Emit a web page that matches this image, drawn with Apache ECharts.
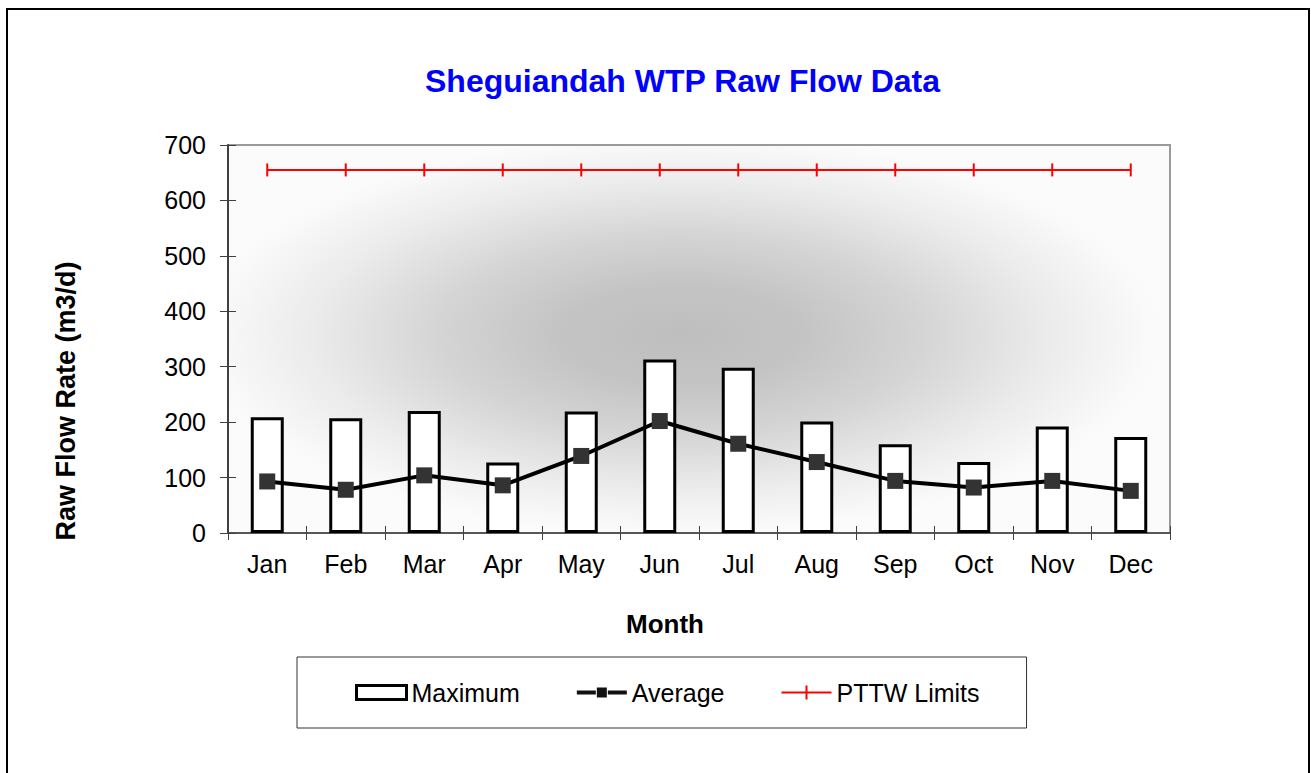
<!DOCTYPE html>
<html>
<head>
<meta charset="utf-8">
<script src="https://cdn.jsdelivr.net/npm/echarts@6/dist/echarts.min.js"></script>
<style>
html,body{margin:0;padding:0;background:#fff;}
#chart{width:1311px;height:773px;}
</style>
</head>
<body>
<div id="chart"></div>
<script>
const months = ['Jan','Feb','Mar','Apr','May','Jun','Jul','Aug','Sep','Oct','Nov','Dec'];
const maximum = [209, 207, 220, 127, 219, 313, 298, 201, 160, 128, 192, 173];
const average = [93, 78, 104, 86, 139, 202, 161, 128, 94, 82, 94, 76];
const pttwLimits = [655, 655, 655, 655, 655, 655, 655, 655, 655, 655, 655, 655];
const yTicks = [0, 100, 200, 300, 400, 500, 600, 700];

const FONT = "'Liberation Sans', Arial, sans-serif";
const chart = echarts.init(document.getElementById('chart'), null, {renderer: 'svg'});

const G = {left: 228, top: 145, width: 942, height: 388};

chart.setOption({
  backgroundColor: '#ffffff',
  animation: false,
  title: {
    text: 'Sheguiandah WTP Raw Flow Data',
    left: 420,
    top: 60,
    textStyle: {color: '#0000ff', fontFamily: FONT, fontWeight: 'bold', fontSize: 32}
  },
  graphic: [
    {
      type: 'rect', z: -10, silent: true,
      x: G.left + G.width * 0.5, y: G.top + G.height * 0.5,
      scaleY: G.height / G.width,
      shape: {x: -G.width / 2, y: -G.width / 2, width: G.width, height: G.width},
      style: {
        fill: {
          type: 'radial', x: 0.48, y: 0.49, r: 0.52,
          colorStops: [
            {offset: 0, color: '#bebebe'},
            {offset: 0.25, color: '#c4c4c4'},
            {offset: 0.5, color: '#d5d5d5'},
            {offset: 0.75, color: '#ebebeb'},
            {offset: 0.95, color: '#f9f9f9'},
            {offset: 1, color: '#fbfbfb'}
          ]
        }
      }
    },
    {
      type: 'rect', z: 100, silent: true,
      shape: {x: 7, y: 9, width: 1302, height: 800},
      style: {fill: 'none', stroke: '#000', lineWidth: 2}
    }
  ],
  grid: {
    left: G.left, top: G.top, width: G.width, height: G.height,
    show: true, backgroundColor: 'transparent', borderColor: '#9a9a9a', borderWidth: 2
  },
  legend: {
    left: 297, top: 657,
    padding: [23, 47, 23, 58],
    itemGap: 57,
    itemWidth: 50, itemHeight: 14,
    backgroundColor: '#ffffff', borderColor: '#333', borderWidth: 1,
    textStyle: {fontFamily: FONT, fontSize: 25, color: '#000'},
    data: [
      {name: 'Maximum', icon: 'rect', itemStyle: {color: '#ffffff', borderColor: '#000', borderWidth: 3}},
      {name: 'Average', icon: 'path://M0,5 L19,5 L19,9 L0,9 Z M20,2 L30,2 L30,12 L20,12 Z M31,5 L50,5 L50,9 L31,9 Z', itemStyle: {color: '#111', borderWidth: 0}},
      {name: 'PTTW Limits', icon: 'path://M0,6 L50,6 L50,8 L0,8 Z M24,0 L26,0 L26,14 L24,14 Z', itemStyle: {color: '#ff0000', borderWidth: 0}}
    ]
  },
  xAxis: [
    {
      type: 'category', data: months, position: 'bottom',
      name: 'Month', nameLocation: 'middle', nameGap: 78,
      nameTextStyle: {fontFamily: FONT, fontSize: 26, fontWeight: 'bold', color: '#000', padding: [0, 68, 0, 0]},
      axisLine: {lineStyle: {color: '#404040', width: 1.5}},
      axisTick: {show: true, inside: false, length: 7, lineStyle: {color: '#404040', width: 1}},
      axisLabel: {fontFamily: FONT, fontSize: 25, color: '#000', margin: 18},
      splitLine: {show: false}
    },
    {
      type: 'category', data: months, position: 'bottom', gridIndex: 0,
      axisLine: {show: false},
      axisTick: {show: true, inside: true, length: 7, lineStyle: {color: '#404040', width: 1}},
      axisLabel: {show: false},
      splitLine: {show: false}
    }
  ],
  yAxis: [
    {
      type: 'value', min: 0, max: 700, interval: 100, position: 'left',
      name: 'Raw Flow Rate (m3/d)', nameLocation: 'middle', nameGap: 149,
      nameTextStyle: {fontFamily: FONT, fontSize: 27, fontWeight: 'bold', color: '#000', padding: [0, 124, 0, 0]},
      axisLine: {show: true, lineStyle: {color: '#404040', width: 2}},
      axisTick: {show: true, inside: false, length: 8, lineStyle: {color: '#404040', width: 1}},
      axisLabel: {fontFamily: FONT, fontSize: 25, color: '#000', margin: 22,
        formatter: v => yTicks.includes(v) ? String(v) : ''},
      splitLine: {show: false}
    },
    {
      type: 'value', min: 0, max: 700, interval: 100, position: 'left', gridIndex: 0,
      axisLine: {show: false},
      axisTick: {show: true, inside: true, length: 8, lineStyle: {color: '#404040', width: 1}},
      axisLabel: {show: false},
      splitLine: {show: false}
    }
  ],
  series: [
    {
      name: 'Maximum', type: 'bar', data: maximum, barWidth: 33, z: 2,
      itemStyle: {color: '#ffffff', borderColor: '#000000', borderWidth: 3}
    },
    {
      name: 'Average', type: 'line', data: average, z: 3,
      lineStyle: {color: '#000000', width: 4},
      symbol: 'rect', symbolSize: 16,
      itemStyle: {color: '#333333'}
    },
    {
      name: 'PTTW Limits', type: 'line', data: pttwLimits, z: 4,
      lineStyle: {color: '#ff0000', width: 2},
      symbol: 'path://M0,0 L2,0 L2,13 L0,13 Z', symbolKeepAspect: true, symbolSize: 13,
      itemStyle: {color: '#ff0000'}
    }
  ]
});
</script>
</body>
</html>
